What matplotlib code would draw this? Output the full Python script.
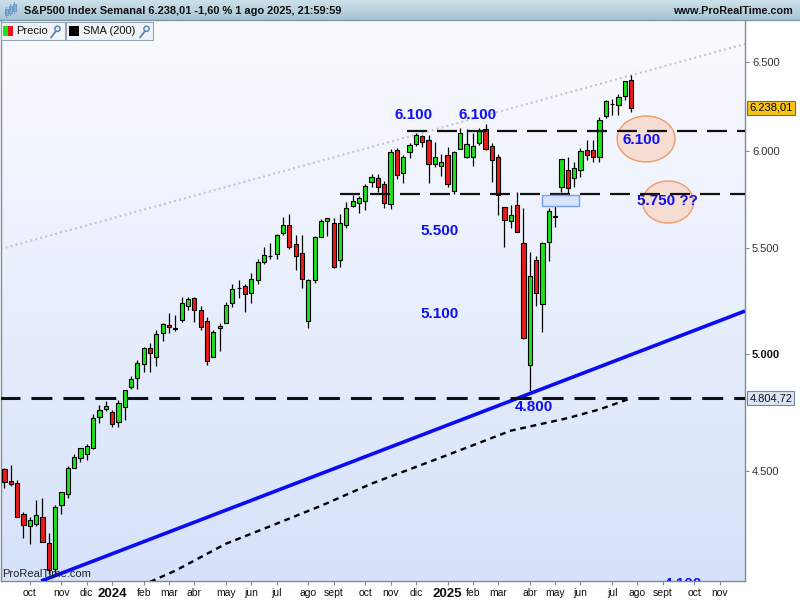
import datetime as dt
import numpy as np
import matplotlib
matplotlib.use("Agg")
import matplotlib.pyplot as plt
from matplotlib.patches import Rectangle, Ellipse, Circle
from matplotlib.ticker import NullLocator
import matplotlib.transforms as mtransforms

plt.rcParams['font.family'] = ['Liberation Sans', 'DejaVu Sans']
plt.rcParams['lines.scale_dashes'] = False

# ---------------- data ----------------
first_week = dt.date(2023, 9, 4)   # Monday of first weekly candle

opens = [4510, 4462, 4453, 4329, 4284, 4290, 4320, 4218, 4120, 4364,
         4407, 4512, 4554, 4569, 4593, 4725, 4758,
         4745, 4703, 4767, 4853, 4892, 4957, 5026, 4988, 5093, 5131,
         5112, 5154, 5219, 5258, 5204, 5150, 4988, 5116, 5143, 5233,
         5305, 5316, 5284, 5342, 5432, 5461, 5471, 5573, 5615, 5522,
         5476, 5151, 5344, 5557, 5637, 5624, 5442, 5615, 5711, 5727,
         5737, 5835, 5858, 5824, 5723, 6009, 5883, 5993, 6040, 6083,
         6063, 5929,
         5920, 5982, 5789, 6014, 5969, 5969, 6046, 6122, 6026, 5968,
         5705, 5635, 5718, 5527, 4953, 5441, 5232, 5529, 5655, 5808,
         5902, 5855, 5897, 6005, 6005, 5970, 6194, 6259, 6256, 6305, 6397]
highs = [4511, 4527, 4466, 4338, 4320, 4385, 4394, 4256, 4366, 4415,
         4521, 4569, 4595, 4610, 4738, 4778, 4793,
         4755, 4799, 4842, 4903, 4975, 5030, 5048, 5111, 5141, 5190,
         5180, 5262, 5265, 5265, 5220, 5168, 5111, 5139, 5240, 5325,
         5342, 5324, 5376, 5448, 5505, 5524, 5570, 5655, 5670, 5564,
         5567, 5350, 5561, 5643, 5651, 5652, 5670, 5734, 5767, 5765,
         5823, 5878, 5878, 5842, 6012, 6018, 5979, 6045, 6099, 6089,
         6086, 6049,
         5986, 6021, 6000, 6128, 6120, 6101, 6127, 6147, 6044, 5987,
         5705, 5715, 5786, 5700, 5482, 5459, 5528, 5700, 5720, 5959,
         5968, 5944, 6017, 6059, 6060, 6187, 6285, 6290, 6315, 6390, 6427]
lows = [4432, 4440, 4317, 4238, 4216, 4283, 4223, 4104, 4103, 4329,
        4394, 4511, 4537, 4546, 4592, 4699, 4751,
        4682, 4682, 4714, 4845, 4845, 4919, 4920, 4946, 5057, 5094,
        5104, 5146, 5204, 5146, 5108, 4953, 4988, 5012, 5142, 5218,
        5257, 5192, 5234, 5326, 5420, 5448, 5448, 5567, 5497, 5390,
        5306, 5120, 5330, 5554, 5560, 5402, 5406, 5598, 5704, 5674,
        5690, 5809, 5783, 5703, 5696, 5853, 5830, 5963, 6028, 6025,
        5833, 5917,
        5869, 5809, 5773, 6013, 5963, 5923, 6031, 6009, 5837, 5667,
        5505, 5598, 5580, 5069, 4835, 5220, 5101, 5434, 5603, 5786,
        5767, 5810, 5861, 5953, 5940, 5943, 6179, 6201, 6201, 6282, 6213]
closes = [4457, 4450, 4320, 4288, 4308, 4328, 4224, 4117, 4358, 4415,
          4514, 4559, 4595, 4604, 4719, 4755, 4770,
          4697, 4784, 4840, 4891, 4959, 5027, 5006, 5089, 5137, 5124,
          5117, 5234, 5254, 5204, 5123, 4967, 5100, 5128, 5223, 5303,
          5305, 5278, 5347, 5432, 5465, 5460, 5567, 5615, 5505, 5459,
          5347, 5344, 5554, 5635, 5648, 5408, 5626, 5703, 5738, 5751,
          5815, 5865, 5808, 5729, 5996, 5871, 5969, 6032, 6090, 6051,
          5931, 5971,
          5942, 5827, 5997, 6101, 6041, 6026, 6115, 6013, 5955, 5770,
          5639, 5668, 5581, 5074, 5363, 5283, 5525, 5687, 5660, 5958,
          5803, 5912, 6000, 5977, 5968, 6173, 6279, 6260, 6297, 6389, 6238.01]

# SMA(200) readings (week index, value)
sma_week = [23, 27, 35, 42, 50, 58, 70, 80, 89, 94, 99]
sma_value = [4074, 4115, 4216, 4283, 4362, 4450, 4566, 4667, 4720, 4757, 4805]

# drawn trend lines (week index, price anchors)
trend_week = [5.8, 117.0]
trend_price = [4077, 5197]
dotted_week = [-0.6, 117.0]
dotted_price = [5495, 6607]

# horizontal levels (price, start week)
level_hi = 6112
level_hi_start = 63.6
level_mid = 5774
level_mid_start = 53
level_low = 4804.72

gap_box_weeks = [84.9, 90.8]
gap_box_prices = [5713, 5770]

ytick_values = [4500, 5000, 5500, 6000, 6500]
ytick_labels = ['4.500', '5.000', '5.500', '6.000', '6.500']

month_names = {1: None, 2: 'feb', 3: 'mar', 4: 'abr', 5: 'may', 6: 'jun', 7: 'jul',
               8: 'ago', 9: 'sept', 10: 'oct', 11: 'nov', 12: 'dic'}
tick_months = [(2023, m) for m in (10, 11, 12)] + [(2024, m) for m in range(1, 13)] + \
              [(2025, m) for m in range(1, 12)]

last_close_label = '6.238,01'
level_low_label = '4.804,72'
title = 'S&P500 Index Semanal 6.238,01 -1,60 % 1 ago 2025, 21:59:59'

# ---------------- figure ----------------
fig = plt.figure(figsize=(8, 6), dpi=100)
fig.patch.set_facecolor('white')
pos = [1 / 800, 19 / 600, 744 / 800, 560 / 600]

bg = fig.add_axes(pos, zorder=0)
g = np.linspace(0, 1, 256)[:, None, None]
top_c = np.array([250, 251, 255]) / 255
bot_c = np.array([214, 226, 250]) / 255
img = top_c[None, None, :] * (1 - g) + bot_c[None, None, :] * g
bg.imshow(img, aspect='auto', extent=(0, 1, 0, 1), origin='upper')
bg.set_axis_off()

ax = fig.add_axes(pos, zorder=1)
ax.set_facecolor('none')
ax.set_yscale('log')

o = np.array(opens, float)
h = np.array(highs, float)
l = np.array(lows, float)
c = np.array(closes, float)
x = np.arange(len(c))
up = c >= o
cols = np.where(up, '#1de21d', '#ee1a1a')

ax.vlines(x, l, h, color='black', lw=0.9, zorder=3)
ax.bar(x, np.maximum(np.abs(c - o), 1.5), bottom=np.minimum(o, c), width=0.66,
       color=cols, edgecolor='black', linewidth=0.8, zorder=4)

# trend lines
ax.plot(dotted_week, dotted_price, color='#c2c2c2', lw=1.6, ls=(0, (1.3, 2.4)), zorder=2)
ax.plot(trend_week, trend_price, color='#0b0bf4', lw=2.6, zorder=5, solid_capstyle='butt')
ax.plot(sma_week, sma_value, color='black', lw=1.7, ls=(0, (4.2, 3.4)), zorder=5)

# horizontal levels
ax.plot([level_hi_start, 118], [level_hi, level_hi], color='#111111', lw=1.6,
        ls=(0, (14.4, 7.2)), zorder=5)
ax.plot([level_mid_start, 118], [level_mid, level_mid], color='#111111', lw=1.6,
        ls=(0, (14.4, 7.2)), zorder=5)
ax.plot([-1, 118], [level_low, level_low], color='#111111', lw=2.2,
        ls=(0, (15.1, 7.9)), zorder=5)

# gap box
ax.add_patch(Rectangle((gap_box_weeks[0], gap_box_prices[0]),
                       gap_box_weeks[1] - gap_box_weeks[0],
                       gap_box_prices[1] - gap_box_prices[0],
                       fc='#d6e4fc', ec='#76a0ee', lw=1.0, zorder=6))

# ellipses
ax.add_patch(Ellipse((0.8671, 0.7893), 0.0779, 0.0821, transform=ax.transAxes,
                     fc='#f6ddd3', ec='#f39a66', lw=1.0, zorder=4.5))
ax.add_patch(Ellipse((0.8966, 0.6768), 0.0685, 0.0750, transform=ax.transAxes,
                     fc='#f6ddd3', ec='#f39a66', lw=1.0, zorder=4.5))

# blue annotations
blue = '#1010f0'
ann = [('6.100', 64.7, 6198), ('6.100', 74.8, 6198), ('5.500', 68.8, 5584),
       ('5.100', 68.8, 5183), ('4.800', 83.7, 4767), ('6.100', 100.7, 6060),
       ('5.750 ??', 104.8, 5737), ('4.100', 107.2, 4066)]
for t, wx, py in ann:
    ax.text(wx, py, t, color=blue, fontsize=11, fontweight='bold', ha='center',
            va='center', zorder=8, clip_on=True)

# watermark
ax.text(0.002, 0.004, 'ProRealTime.com', transform=ax.transAxes, fontsize=8,
        color='#222222', ha='left', va='bottom', zorder=9)

# axes limits
ax.set_xlim(-0.553, 117.0)
ax.set_ylim(4077, 6745)

# y axis
ax.yaxis.tick_right()
ax.yaxis.set_minor_locator(NullLocator())
ax.set_yticks(ytick_values)
ax.set_yticklabels(ytick_labels)
ax.yaxis.set_minor_locator(NullLocator())
ax.tick_params(axis='y', which='major', direction='out', length=3, pad=2,
               labelsize=8, labelcolor='#333333', color='#7f8c99')
for tk in ax.yaxis.get_major_ticks():
    if tk.label2.get_text() == '5.000':
        tk.label2.set_fontweight('bold')
        tk.label2.set_color('#111111')

# x axis
tick_pos, tick_lab = [], []
for yy, mm in tick_months:
    d = dt.date(yy, mm, 1)
    fm = d + dt.timedelta(days=(7 - d.weekday()) % 7)
    tick_pos.append((fm - first_week).days / 7)
    tick_lab.append(str(yy) if month_names[mm] is None else month_names[mm])
ax.set_xticks(tick_pos)
ax.set_xticklabels(tick_lab)
ax.tick_params(axis='x', direction='out', length=3, pad=2, labelsize=7.5,
               labelcolor='#111111', color='#7f8c99')
for tk in ax.xaxis.get_major_ticks():
    if tk.label1.get_text().isdigit():
        tk.label1.set_fontweight('bold')
        tk.label1.set_fontsize(9.5)

for s in ('top',):
    ax.spines[s].set_visible(False)
for s in ('left', 'right', 'bottom'):
    ax.spines[s].set_color('#7f8c99')
    ax.spines[s].set_linewidth(1.0)

# price tags on the right axis
bt = mtransforms.blended_transform_factory(ax.transAxes, ax.transData)
ax.text(1.006, c[-1], last_close_label, transform=bt, fontsize=8, ha='left', va='center',
        color='black', clip_on=False, zorder=10,
        bbox=dict(boxstyle='square,pad=0.18', fc='#f7c31a', ec='#6b6b6b', lw=0.8))
ax.text(1.006, level_low, level_low_label, transform=bt, fontsize=8, ha='left', va='center',
        color='#111111', clip_on=False, zorder=10,
        bbox=dict(boxstyle='square,pad=0.18', fc='#dbe5f5', ec='#7088a6', lw=0.8))

# ---------------- header and legend overlay ----------------
ov = fig.add_axes([0, 0, 1, 1], zorder=5)
ov.set_facecolor('none')
hg = np.linspace(0, 1, 64)[:, None, None]
h_top = np.array([204, 224, 233]) / 255
h_bot = np.array([168, 197, 211]) / 255
himg = h_top[None, None, :] * (1 - hg) + h_bot[None, None, :] * hg
ov.imshow(himg, aspect='auto', extent=(0, 800, 20, 0), origin='upper')
ov.plot([0, 800], [20.3, 20.3], color='#7d98a8', lw=1.0)
# header candle icon
for cx, y0, y1 in [(6, 9, 15), (10, 6, 13), (14, 4, 11)]:
    ov.plot([cx, cx], [y0 - 2, y1 + 2], color='#7aa0cc', lw=0.8)
    ov.add_patch(Rectangle((cx - 1.5, y0), 3, y1 - y0, fc='#8fb2da', ec='#6a90c0', lw=0.6))
ov.text(24, 10.5, title, fontsize=7.9, fontweight='bold', ha='left', va='center',
        color='#111111')
ov.text(793, 10.5, 'www.ProRealTime.com', fontsize=7.8, fontweight='bold', ha='right',
        va='center', color='#111111')

# legend boxes
ov.add_patch(Rectangle((0.5, 21.5), 64.5, 18.5, fc='#f0f3f7', ec='#98a6b4', lw=0.8))
ov.add_patch(Rectangle((66, 21.5), 87, 18.5, fc='#f0f3f7', ec='#98a6b4', lw=0.8))
ov.add_patch(Rectangle((2.5, 26), 5, 10, fc='#19e619', ec='none'))
ov.add_patch(Rectangle((7.5, 26), 5, 10, fc='#ee1111', ec='none'))
ov.add_patch(Rectangle((69, 26), 10, 10, fc='black', ec='none'))
ov.text(16, 31, 'Precio', fontsize=8, ha='left', va='center', color='#111111')
ov.text(83, 31, 'SMA (200)', fontsize=8, ha='left', va='center', color='#111111')
for wx in (50, 139):
    ov.plot([wx + 1, wx + 6], [37.5, 31], color='#5d84b6', lw=1.3, solid_capstyle='round')
    ov.add_patch(Circle((wx + 7.5, 28.8), 2.6, fc='none', ec='#5d84b6', lw=1.1))

ov.set_xlim(0, 800)
ov.set_ylim(600, 0)
ov.set_axis_off()

fig.savefig('out.png', dpi=100)
